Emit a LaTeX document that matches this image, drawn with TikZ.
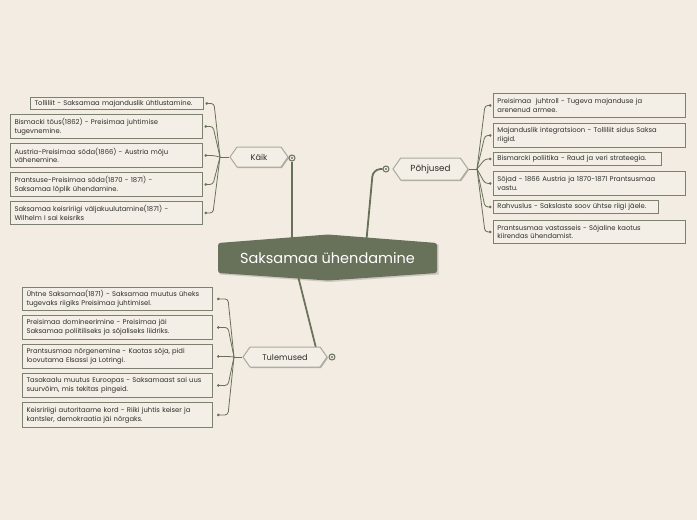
\documentclass[tikz,border=0pt]{standalone}
\usepackage{fontspec}
\setmainfont{Poppins}
\usetikzlibrary{shadows,shapes.symbols,arrows.meta}
\definecolor{bg}{HTML}{F2ECE3}
\definecolor{boxf}{HTML}{F3EEE6}
\definecolor{bordc}{HTML}{7B8070}
\definecolor{linec}{HTML}{687157}
\definecolor{cen}{HTML}{68715A}
\definecolor{txt}{HTML}{2E2E2A}
\definecolor{hexd}{HTML}{A9AB9C}
\begin{document}
\begin{tikzpicture}[x=1pt,y=-1pt,
  box/.style={draw=bordc, line width=0.9pt, fill=boxf, inner xsep=4pt, inner ysep=0pt,
    align=left, font=\fontsize{6.8}{8.8}\selectfont, text=txt,
    drop shadow={shadow xshift=0.8pt, shadow yshift=-0.8pt, opacity=0.2, fill=black}},
  boxl/.style={box, anchor=north east},
  boxr/.style={box, anchor=north west},
  hexn/.style={signal, signal to=east and west, signal pointer angle=110,
    draw=hexd, line width=1pt, fill=boxf, inner sep=0pt, text=txt,
    drop shadow={shadow xshift=1pt, shadow yshift=-1pt, opacity=0.25, fill=black}},
  conn/.style={draw=linec, line width=0.8pt, rounded corners=3pt, -{Circle[length=2.6pt]}},
  trunk/.style={draw=linec, line width=0.8pt},
  main/.style={draw=linec, line width=1.8pt},
  markc/.style={circle, draw=linec, line width=1pt, fill=boxf, minimum size=6pt, inner sep=0pt}
]
\fill[bg] (0,0) rectangle (697,520);
\useasboundingbox (0,0) rectangle (697,520);

% main connectors
\coordinate (kaikend) at (292,245);
\coordinate (pohend) at (366,245);
\coordinate (cbot) at (297,272);
\node[markc] (kaikmark) at (292,158) {};
\node[markc] (pohmark) at (386,169) {};
\draw[main] (kaikmark.south) -- (kaikend);
\draw[main, rounded corners=7pt] (pohmark.west) -- (373,169.5) -- (pohend);

% central node
\fill[black, opacity=0.15] (219.5,244.5) -- (329.5,236) -- (438.5,244.5) -- (438.5,274.5) -- (329.5,282) -- (219.5,274.5) -- cycle;
\fill[cen, rounded corners=2.5pt] (218,243) -- (328,234.5) -- (437,243) -- (437,273) -- (328,280.5) -- (218,273) -- cycle;
\node[text=white, font=\fontsize{14.5}{16}\selectfont] (center) at (327.5,258) {Saksamaa ühendamine};

% branch nodes
\node[hexn, minimum width=58pt, minimum height=20pt, font=\fontsize{8.2}{9}\selectfont] (kaik) at (259,157) {Käik};
\node[hexn, minimum width=75pt, minimum height=22pt, font=\fontsize{8.8}{10}\selectfont] (poh) at (430.5,169) {Põhjused};
\draw[main] (cbot) -- (316,348);
\node[hexn, minimum width=84pt, minimum height=20pt, font=\fontsize{8.2}{9}\selectfont] (tul) at (285,357) {Tulemused};
\node[markc] (tulmark) at (332,357) {};
\fill[linec] (kaikmark) circle (1.1pt);
\fill[linec] (pohmark) circle (1.1pt);
\fill[linec] (tulmark) circle (1.1pt);

% Käik boxes
\node[boxl, minimum width=173pt, minimum height=12pt, text width=165pt] (k1) at (204,97) {Tolliliit - Saksamaa majanduslik ühtlustamine.};
\node[boxl, minimum width=192pt, minimum height=24pt, text width=184pt] (k2) at (203,114) {Bismacki tõus(1862) - Preisimaa juhtimise\\tugevnemine.};
\node[boxl, minimum width=192pt, minimum height=24pt, text width=184pt] (k3) at (203,143) {Austria-Preisimaa sõda(1866) - Austria mõju\\vähenemine.};
\node[boxl, minimum width=192pt, minimum height=24pt, text width=184pt] (k4) at (203,172) {Prantsuse-Preisimaa sõda(1870 - 1871) -\\Saksamaa lõplik ühendamine.};
\node[boxl, minimum width=192pt, minimum height=23pt, text width=184pt] (k5) at (203,201) {Saksamaa keisririigi väljakuulutamine(1871) -\\Wilhelm I sai keisriks};
\coordinate (kj) at (220,157);
\draw[trunk] (kaik.west) -- (kj);
\foreach \b in {k1,k2,k3,k4,k5}
  \draw[conn] (kj) -- ([xshift=10pt]\b.east) -- ([xshift=1.5pt]\b.east);

% Põhjused boxes
\node[boxr, minimum width=192pt, minimum height=24pt, text width=184pt] (p1) at (493,93) {Preisimaa\ \ juhtroll - Tugeva majanduse ja\\arenenud armee.};
\node[boxr, minimum width=192pt, minimum height=24pt, text width=184pt] (p2) at (493,123) {Majanduslik integratsioon - Tolliliit sidus Saksa\\riigid.};
\node[boxr, minimum width=168pt, minimum height=13pt, text width=160pt] (p3) at (493,152) {Bismarcki poliitika - Raud ja veri strateegia.};
\node[boxr, minimum width=192pt, minimum height=24pt, text width=184pt] (p4) at (493,171) {Sõjad - 1866 Austria ja 1870-1871 Prantsusmaa\\vastu.};
\node[boxr, minimum width=165pt, minimum height=13pt, text width=157pt] (p5) at (493,200) {Rahvuslus - Sakslaste soov ühtse riigi jäele.};
\node[boxr, minimum width=192pt, minimum height=23pt, text width=184pt] (p6) at (493,220) {Prantsusmaa vastasseis - Sõjaline kaotus\\kiirendas ühendamist.};
\coordinate (pj) at (477,169);
\draw[trunk] (poh.east) -- (pj);
\foreach \b in {p1,p2,p3,p4,p5,p6}
  \draw[conn] (pj) -- ([xshift=-8pt]\b.west) -- ([xshift=-1.5pt]\b.west);

% Tulemused boxes
\node[boxl, minimum width=190pt, minimum height=23pt, text width=182pt] (t1) at (213,287) {Ühtne Saksamaa(1871) - Saksamaa muutus üheks\\tugevaks riigiks Preisimaa juhtimisel.};
\node[boxl, minimum width=190pt, minimum height=24pt, text width=182pt] (t2) at (213,315) {Preisimaa domineerimine - Preisimaa jäi\\Saksamaa poliitiliseks ja sõjaliseks liidriks.};
\node[boxl, minimum width=190pt, minimum height=24pt, text width=182pt] (t3) at (213,344) {Prantsusmaa nõrgenemine - Kaotas sõja, pidi\\loovutama Elsassi ja Lotringi.};
\node[boxl, minimum width=190pt, minimum height=24pt, text width=182pt] (t4) at (213,373) {Tasakaalu muutus Euroopas - Saksamaast sai uus\\suurvõim, mis tekitas pingeid.};
\node[boxl, minimum width=190pt, minimum height=25pt, text width=182pt] (t5) at (213,402) {Keisririigi autoritaarne kord - Riiki juhtis keiser ja\\kantsler, demokraatia jäi nõrgaks.};
\coordinate (tj) at (234,357);
\draw[trunk] (tul.west) -- (tj);
\foreach \b in {t1,t2,t3,t4,t5}
  \draw[conn] (tj) -- ([xshift=15pt]\b.east) -- ([xshift=4pt]\b.east);
\end{tikzpicture}
\end{document}
